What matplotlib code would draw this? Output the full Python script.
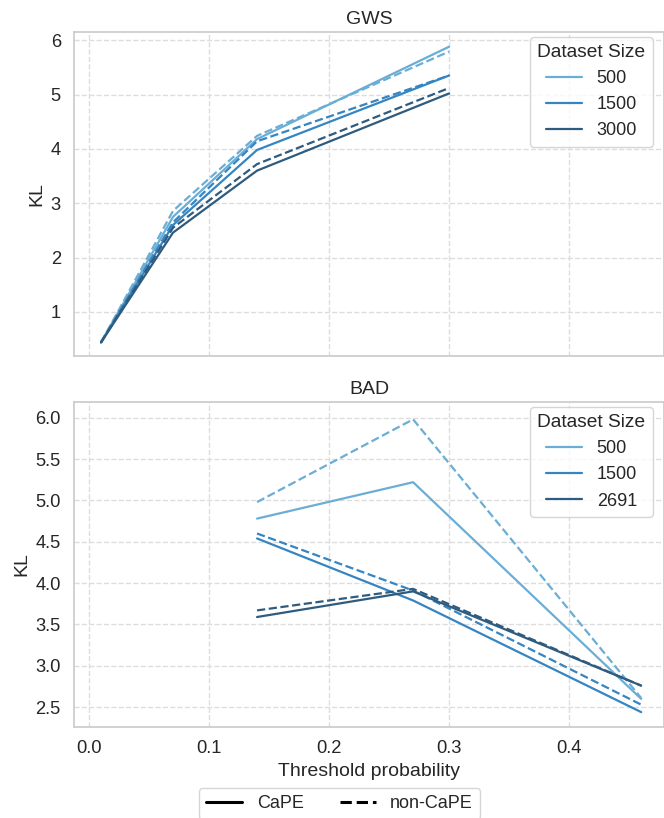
import matplotlib
matplotlib.use('Agg')
import matplotlib.pyplot as plt
import seaborn as sns
from matplotlib.lines import Line2D

sns.set_theme(style='whitegrid', font_scale=1.2)
plt.rcParams['font.family'] = ['Liberation Sans', 'DejaVu Sans']

# GWS data
gws_x = [0.01, 0.07, 0.14, 0.30]
gws_sizes = ['500', '1500', '3000']
gws_cape = {
    '500': [0.44, 2.75, 4.18, 5.88],
    '1500': [0.44, 2.60, 3.98, 5.35],
    '3000': [0.44, 2.46, 3.60, 5.02],
}
gws_noncape = {
    '500': [0.44, 2.86, 4.24, 5.79],
    '1500': [0.44, 2.65, 4.14, 5.35],
    '3000': [0.44, 2.55, 3.72, 5.12],
}

# BAD data
bad_x = [0.14, 0.27, 0.46]
bad_sizes = ['500', '1500', '2691']
bad_cape = {
    '500': [4.78, 5.22, 2.60],
    '1500': [4.54, 3.79, 2.44],
    '2691': [3.59, 3.90, 2.76],
}
bad_noncape = {
    '500': [4.98, 5.98, 2.61],
    '1500': [4.60, 3.91, 2.53],
    '2691': [3.67, 3.93, 2.76],
}

colors = ['#6aaed6', '#3585c3', '#2f5b7e']

fig = plt.figure(figsize=(6.64, 8.18), dpi=100)
ax1 = fig.add_axes([74 / 664, 1 - 356 / 818, 590 / 664, 324 / 818])
ax2 = fig.add_axes([74 / 664, 1 - 727 / 818, 590 / 664, 325 / 818], sharex=ax1)


def draw(ax, x, sizes, cape, noncape, title):
    handles = []
    for size, c in zip(sizes, colors):
        h, = ax.plot(x, cape[size], color=c, lw=1.6, label=size)
        ax.plot(x, noncape[size], color=c, lw=1.6, ls='--')
        handles.append(h)
    ax.set_title(title, fontsize=14)
    ax.set_ylabel('KL', fontsize=14)
    ax.grid(True, linestyle='--', color='#dddddd', linewidth=1)
    for sp in ax.spines.values():
        sp.set_color('#cccccc')
    ax.tick_params(labelsize=13.2)
    ax.legend(handles=handles, title='Dataset Size', loc='upper right',
              bbox_to_anchor=(0.981, 0.984), borderaxespad=0,
              fontsize=13, title_fontsize=13.8)


draw(ax1, gws_x, gws_sizes, gws_cape, gws_noncape, 'GWS')
draw(ax2, bad_x, bad_sizes, bad_cape, bad_noncape, 'BAD')

ax1.set_xlim(-0.0125, 0.479)
ax1.set_ylim(0.19, 6.15)
ax1.tick_params(labelbottom=False)
ax2.set_ylim(2.26, 6.19)
ax2.set_yticks([2.5, 3.0, 3.5, 4.0, 4.5, 5.0, 5.5, 6.0])
ax2.set_xticks([0.0, 0.1, 0.2, 0.3, 0.4])
ax2.set_xlabel('Threshold probability', fontsize=14)

style_handles = [Line2D([], [], color='black', lw=2.2, ls='-', label='CaPE'),
                 Line2D([], [], color='black', lw=2.2, ls='--', label='non-CaPE')]
fig.legend(handles=style_handles, loc='upper center', ncol=2, fontsize=13,
           bbox_to_anchor=(339.5 / 664, 1 - 788 / 818), borderaxespad=0,
           frameon=True)

fig.savefig('out.png', dpi=100)
